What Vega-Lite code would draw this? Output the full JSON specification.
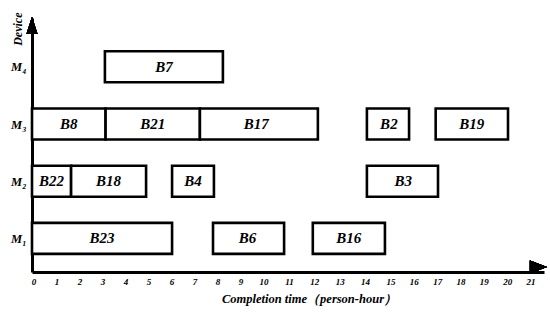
{
  "$schema": "https://vega.github.io/schema/vega-lite/v6.json",
  "autosize": {"type": "none"},
  "width": 512,
  "height": 254,
  "padding": {"left": 32, "top": 18, "right": 6, "bottom": 46},
  "background": "white",
  "config": {"view": {"stroke": null}, "axis": {"labelOverlap": false}},
  "data": {"values": [
    {"task": "B7", "machine": 4, "start": 3.17, "end": 8.3},
    {"task": "B8", "machine": 3, "start": 0, "end": 3.2},
    {"task": "B21", "machine": 3, "start": 3.2, "end": 7.3},
    {"task": "B17", "machine": 3, "start": 7.3, "end": 12.2},
    {"task": "B2", "machine": 3, "start": 14.13, "end": 15.86},
    {"task": "B19", "machine": 3, "start": 17.0, "end": 20.1},
    {"task": "B22", "machine": 2, "start": 0, "end": 1.7},
    {"task": "B18", "machine": 2, "start": 1.7, "end": 4.96},
    {"task": "B4", "machine": 2, "start": 6.09, "end": 7.91},
    {"task": "B3", "machine": 2, "start": 14.13, "end": 17.1},
    {"task": "B23", "machine": 1, "start": 0, "end": 6.09},
    {"task": "B6", "machine": 1, "start": 7.87, "end": 10.87},
    {"task": "B16", "machine": 1, "start": 12.0, "end": 14.84}
  ]},
  "layer": [
    {
      "mark": {"type": "bar", "size": 31, "fill": "white", "stroke": "black", "strokeWidth": 2.6, "cornerRadius": 0},
      "encoding": {
        "x": {
          "field": "start", "type": "quantitative",
          "scale": {"domain": [0, 10, 15, 21, 21.8], "range": [0, 230, 357, 497, 512], "nice": false, "zero": false},
          "axis": {
            "values": [0,1,2,3,4,5,6,7,8,9,10,11,12,13,14,15,16,17,18,19,20,21],
            "tickCount": 22,
            "labelOverlap": false,
            "grid": false, "ticks": false, "tickSize": 0,
            "domain": true, "domainColor": "black", "domainWidth": 3,
            "labelFont": "Liberation Serif", "labelFontStyle": "italic", "labelFontWeight": "bold",
            "labelFontSize": 9, "labelColor": "black", "labelPadding": 5, "labelFlush": false, "labelOffset": 1.5,
            "title": "Completion time（person-hour）",
            "titleFont": "Liberation Serif", "titleFontStyle": "italic", "titleFontWeight": "bold",
            "titleFontSize": 12.5, "titleColor": "black",
            "titleX": 277, "titleY": 26, "titleAlign": "center", "titleBaseline": "middle"
          }
        },
        "x2": {"field": "end"},
        "y": {
          "field": "machine", "type": "quantitative",
          "scale": {"domain": [0.5, 4.766], "nice": false, "zero": false},
          "axis": {
            "values": [1, 2, 3, 4],
            "labelExpr": "datum.value == 1 ? 'M₁' : datum.value == 2 ? 'M₂' : datum.value == 3 ? 'M₃' : 'M₄'",
            "grid": false, "ticks": false, "tickSize": 0,
            "domain": true, "domainColor": "black", "domainWidth": 3,
            "labelFont": "Liberation Serif", "labelFontStyle": "italic", "labelFontWeight": "bold",
            "labelFontSize": 12.5, "labelColor": "black", "labelPadding": 6,
            "title": "Device",
            "titleFont": "Liberation Serif", "titleFontStyle": "italic", "titleFontWeight": "bold",
            "titleFontSize": 12, "titleColor": "black",
            "titleAngle": 270, "titleX": -15, "titleY": -6, "titleAlign": "right", "titleBaseline": "middle"
          }
        }
      }
    },
    {
      "transform": [{"calculate": "(datum.start + datum.end) / 2", "as": "mid"}],
      "mark": {"type": "text", "font": "Liberation Serif", "fontStyle": "italic", "fontWeight": "bold", "fontSize": 15, "color": "black", "baseline": "middle", "align": "center"},
      "encoding": {
        "x": {"field": "mid", "type": "quantitative"},
        "y": {"field": "machine", "type": "quantitative"},
        "text": {"field": "task"}
      }
    },
    {
      "mark": {"type": "point", "shape": "M1,0L-1,-0.76L-1,0.76Z", "filled": true, "color": "black", "size": 289, "opacity": 1, "strokeWidth": 0},
      "encoding": {
        "x": {"datum": 21.5},
        "y": {"datum": 0.5}
      }
    },
    {
      "mark": {"type": "point", "shape": "M0,-1L-0.65,1L0.65,1Z", "filled": true, "color": "black", "size": 289, "opacity": 1, "strokeWidth": 0},
      "encoding": {
        "x": {"datum": 0},
        "y": {"datum": 4.724}
      }
    }
  ]
}
